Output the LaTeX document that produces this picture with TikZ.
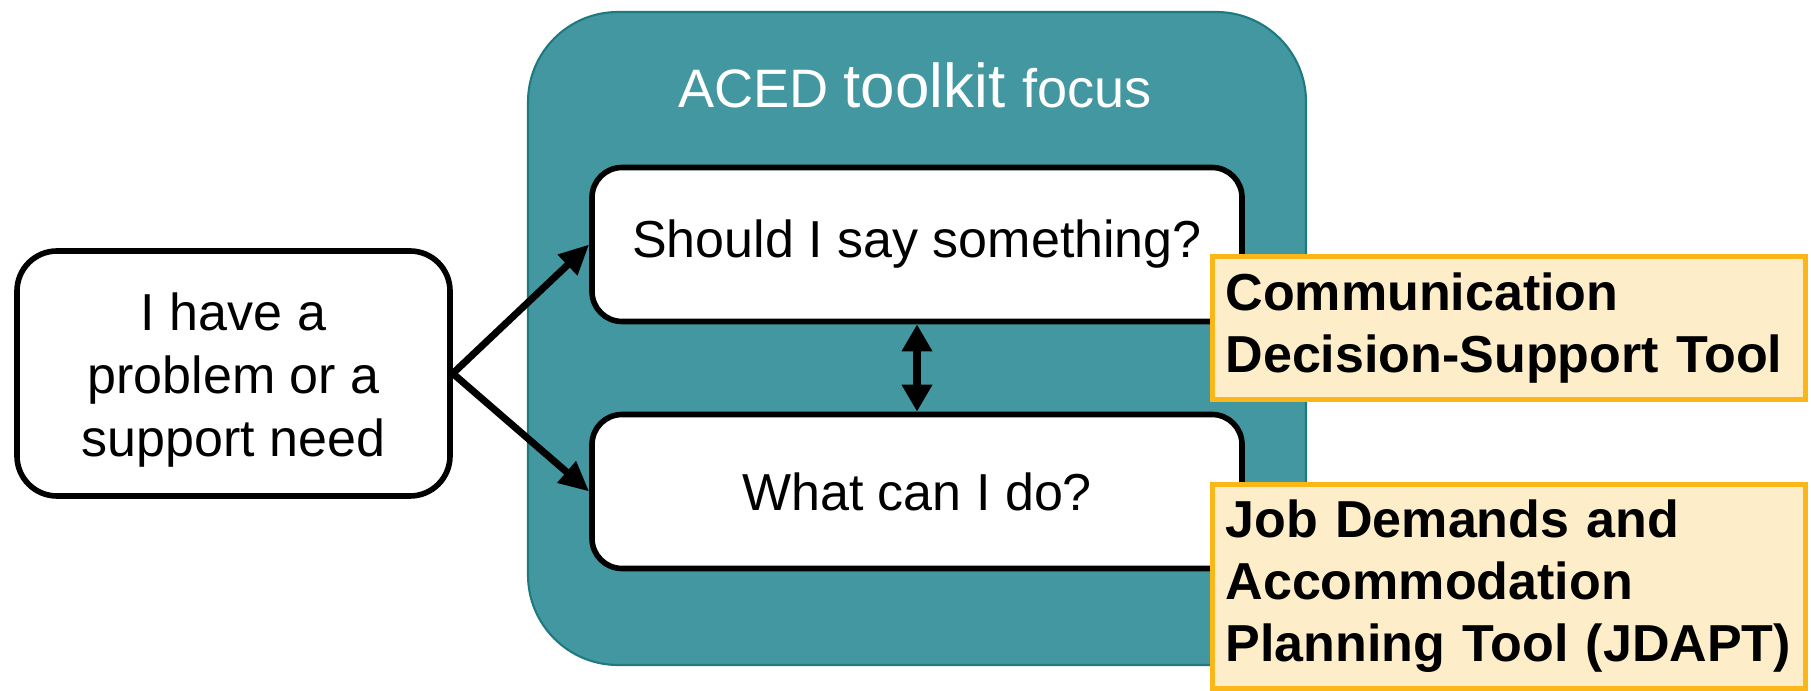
\documentclass[tikz,border=0pt]{standalone}
\usepackage{fontspec}
\setmainfont{Liberation Sans}
\usetikzlibrary{arrows.meta}

\definecolor{tealaced}{RGB}{67,151,160}
\definecolor{bordoteal}{RGB}{31,122,128}
\definecolor{arancio}{RGB}{251,183,24}
\definecolor{crema}{RGB}{253,237,201}

\begin{document}
\begin{tikzpicture}[
    casella/.style={draw=black, fill=white, line width=1.6pt, rounded corners=0.4cm, align=center,
        font=\fontsize{14.8}{17.9}\selectfont},
    domanda/.style={casella, rounded corners=0.3cm, minimum width=6.5cm, minimum height=1.54cm},
    strumento/.style={draw=arancio, fill=crema, line width=1.4pt, text width=5.67cm, inner xsep=0.13cm,
        align=left, font=\fontsize{14.8}{17.6}\selectfont\bfseries},
    freccia/.style={line width=2pt, -{Triangle[length=0.3cm, width=0.27cm]}}
]
    \useasboundingbox (0,0) rectangle (18.11,-6.91);

    % Disegna il riquadro del toolkit
    \draw[fill=tealaced, draw=bordoteal, line width=0.6pt, rounded corners=0.9cm] (5.28,-0.12) rectangle (13.06,-6.65);
    \node[anchor=base, text=white, inner sep=0] (titolo) at (9.15,-1.08)
        {\fontsize{15.4}{18}\selectfont ACED \fontsize{17.6}{20}\selectfont toolkit \fontsize{15.4}{18}\selectfont focus};

    % Disegna le caselle
    \node[casella, minimum width=4.33cm, minimum height=2.45cm] (problema) at (2.335,-3.735)
        {\rule{0pt}{0.5cm}I have a\\problem or a\\support need};
    \node[domanda] (dire) at (9.17,-2.445) {Should I say something?};
    \node[domanda] (fare) at (9.17,-4.915) {What can I do?};

    % Disegna gli strumenti
    \node[strumento, minimum height=1.43cm] (comunicazione) at (15.09,-3.28)
        {Communication\\Decision-Support Tool};
    \node[strumento, minimum height=2.04cm] (jdapt) at (15.09,-5.865)
        {Job Demands and\\Accommodation\\Planning Tool (JDAPT)};

    % Disegna le frecce
    \draw[freccia] (problema.east) -- (dire.west);
    \draw[freccia] (problema.east) -- (fare.west);
    \draw[line width=2.3pt, {Triangle[length=0.27cm, width=0.29cm]}-{Triangle[length=0.27cm, width=0.29cm]}]
        (dire.south) -- (fare.north);
\end{tikzpicture}
\end{document}
